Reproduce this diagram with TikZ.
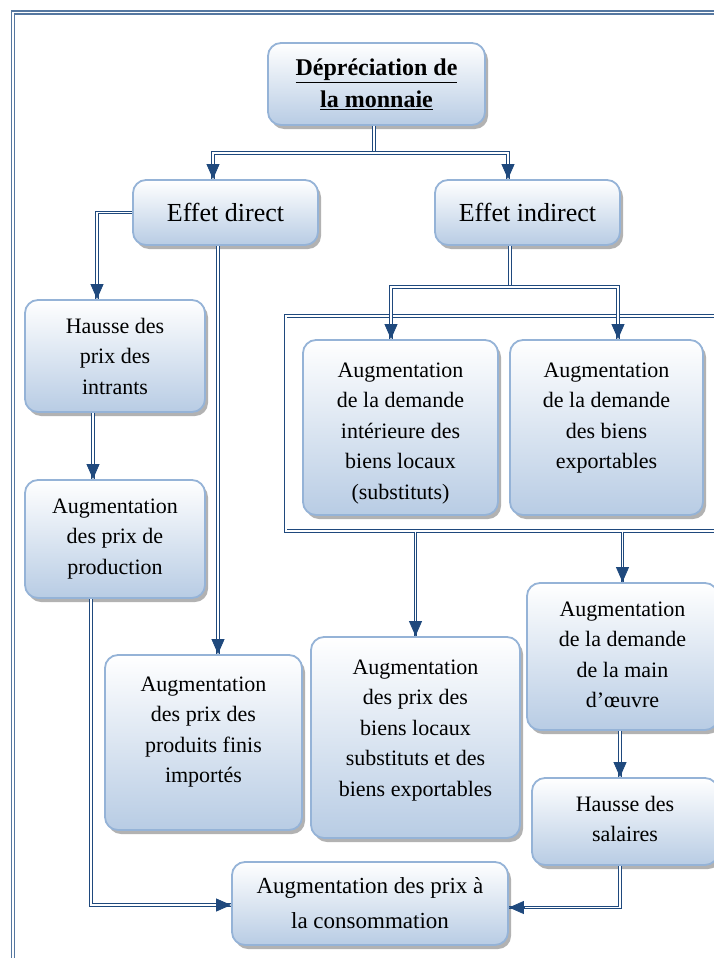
\documentclass[tikz,border=0pt]{standalone}
\usepackage{fontspec}
\setmainfont{Liberation Serif}
\usetikzlibrary{arrows.meta, positioning, shadows, calc}
\definecolor{dkblue}{HTML}{1F497D}
\definecolor{boxline}{HTML}{95B3D7}
\definecolor{boxfill}{HTML}{B8CCE4}
\definecolor{framecol}{HTML}{5577A0}

\begin{document}
\begin{tikzpicture}[
            x=1pt, y=-1pt,
            block/.style={rectangle, rounded corners=13pt, draw=boxline, line width=1.8pt, top color=white, bottom color=boxfill,
                drop shadow={shadow xshift=3pt, shadow yshift=-4pt, fill=black, opacity=0.3},
                align=center, inner sep=2pt, font=\fontsize{22}{30.5}\selectfont},
            dline/.style={draw=dkblue, double=white, line width=0.8pt, double distance=1.6pt},
            tip/.style={draw=dkblue, line width=0.8pt, -{Triangle[length=15pt, width=13pt]}},
            frame/.style={rectangle, draw=dkblue, double=white, line width=0.9pt, double distance=2pt, inner sep=0pt}
        ]

        \useasboundingbox (0,0) rectangle (714,958);
        \clip (0,0) rectangle (714,958);

        % page frame
        \draw[frame, draw=framecol, line width=1.2pt, double distance=1.8pt] (13,975) -- (13,12.5) -- (730,12.5);

        % box round the two demands
        \node[frame, minimum width=455pt, minimum height=215.5pt] (demandes) at (513,423.5) {};

        \node[block, minimum width=217pt, minimum height=82pt, font=\fontsize{24}{32}\selectfont\bfseries] (top) at (376.5,84)
            {\underline{Dépréciation de}\\\underline{la monnaie}};
        \node[block, minimum width=185pt, minimum height=65pt, font=\fontsize{26}{30}\selectfont] (direct) at (225.5,212.5) {Effet direct};
        \node[block, minimum width=185pt, minimum height=65pt, font=\fontsize{26}{30}\selectfont] (indirect) at (527.5,212.5) {Effet indirect};

        % text hangs from the top of the boxes
        \node[block, minimum width=180pt, text height=92pt, text depth=16pt] (intrants) at (115,356) {Hausse des\\prix des\\intrants};
        \node[block, minimum width=180pt, text height=92pt, text depth=22pt] (production) at (115,539) {Augmentation\\des prix de\\production};
        \node[block, minimum width=197pt, text height=125.5pt, text depth=45.5pt] (importes) at (203.5,742.5) {Augmentation\\des prix des\\produits finis\\importés};

        \node[block, minimum width=195pt, text height=157pt, text depth=14pt] (locale) at (400.5,427.5) {Augmentation\\de la demande\\intérieure des\\biens locaux\\(substituts)};
        \node[block, minimum width=193pt, text height=126.5pt, text depth=44.5pt] (exportable) at (606.5,427.5) {Augmentation\\de la demande\\des biens\\exportables};

        \node[block, minimum width=209pt, text height=157pt, text depth=40pt] (prixbiens) at (415.5,737.5) {Augmentation\\des prix des\\biens locaux\\substituts et des\\biens exportables};
        \node[block, minimum width=191pt, text height=122.5pt, text depth=20.5pt] (maindoeuvre) at (622.5,656.5) {Augmentation\\de la demande\\de la main\\d’œuvre};
        \node[block, minimum width=186pt, text height=61.5pt, text depth=21.5pt] (salaires) at (625,821.5) {Hausse des\\salaires};
        \node[block, minimum width=276pt, minimum height=83pt, font=\fontsize{23}{35}\selectfont] (conso) at (370,903.5) {Augmentation des prix à\\la consommation};

        % depreciation -> two effects
        \coordinate (split) at (374,153);
        \coordinate (inD) at ([xshift=-12.5pt]direct.north);
        \coordinate (inI) at ([xshift=-19.5pt]indirect.north);
        \draw[dline] (top.south -| split) -- (split);
        \draw[dline] (inD) |- (split) -| (inI);
        \draw[tip] ([yshift=15pt]inD) -- (inD);
        \draw[tip] ([yshift=15pt]inI) -- (inI);

        % direct effect
        \coordinate (inH) at ([xshift=-18pt]intrants.north);
        \draw[dline] (direct.west) -| (inH);
        \draw[tip] ([yshift=15pt]inH) -- (inH);

        \coordinate (inImp) at ([xshift=14.5pt]importes.north);
        \draw[dline] (direct.south -| inImp) -- (inImp);
        \draw[tip] ([yshift=15pt]inImp) -- (inImp);

        \coordinate (inP) at ([xshift=-22pt]production.north);
        \draw[dline] (intrants.south -| inP) -- (inP);
        \draw[tip] ([yshift=15pt]inP) -- (inP);

        \draw[dline] ([xshift=-24pt]production.south) |- ([yshift=-1.5pt]conso.west);
        \draw[tip] ([xshift=-15pt,yshift=-1.5pt]conso.west) -- ([yshift=-1.5pt]conso.west);

        % indirect effect
        \coordinate (split2) at (510,287);
        \coordinate (inL) at ([xshift=-9.5pt]locale.north);
        \coordinate (inE) at ([xshift=11.5pt]exportable.north);
        \draw[dline] (indirect.south -| split2) -- (split2);
        \draw[dline] (inL) |- (split2) -| (inE);
        \draw[tip] ([yshift=15pt]inL) -- (inL);
        \draw[tip] ([yshift=15pt]inE) -- (inE);

        \draw[dline] (demandes.south -| prixbiens.north) -- (prixbiens.north);
        \draw[tip] ([yshift=15pt]prixbiens.north) -- (prixbiens.north);

        \draw[dline] (demandes.south -| maindoeuvre.north) -- (maindoeuvre.north);
        \draw[tip] ([yshift=15pt]maindoeuvre.north) -- (maindoeuvre.north);

        \coordinate (inS) at ([xshift=-5pt]salaires.north);
        \draw[dline] (maindoeuvre.south -| inS) -- (inS);
        \draw[tip] ([yshift=15pt]inS) -- (inS);

        \draw[dline] ([xshift=-5pt]salaires.south) |- ([yshift=-4pt]conso.east);
        \draw[tip] ([xshift=15pt,yshift=-4pt]conso.east) -- ([yshift=-4pt]conso.east);

    \end{tikzpicture}
\end{document}
